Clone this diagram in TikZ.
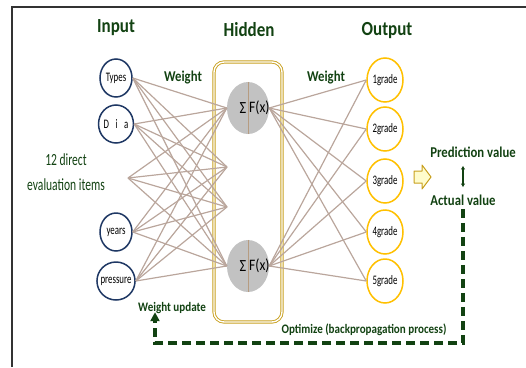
\documentclass[tikz,border=0pt]{standalone}
\usepackage{fontspec}
\setmainfont[FakeStretch=0.85]{Carlito}
\newfontfamily\condfont[FakeStretch=0.68]{Carlito}
\usetikzlibrary{shapes.geometric,arrows.meta}

\definecolor{leaf}{RGB}{18,66,18}
\definecolor{navy}{RGB}{31,56,100}
\definecolor{gold}{RGB}{255,192,0}
\definecolor{boxgold}{RGB}{200,160,30}
\definecolor{linkbrown}{RGB}{186,166,156}

\tikzset{
  innode/.style={ellipse, draw=navy, fill=white, line width=1.5pt, minimum width=32pt, minimum height=38pt, inner sep=0pt, font=\condfont\fontsize{13}{13}\selectfont},
  outnode/.style={ellipse, draw=gold, fill=white, line width=1.5pt, minimum width=36pt, minimum height=44pt, inner sep=0pt, font=\condfont\fontsize{13}{13}\selectfont},
  hidnode/.style={ellipse, fill=black!24, minimum width=42pt, minimum height=52pt, inner sep=0pt},
  title/.style={text=leaf, font=\fontsize{20}{20}\selectfont\bfseries},
  wlabel/.style={text=leaf, font=\fontsize{15}{15}\selectfont\bfseries},
  note/.style={text=leaf, font=\fontsize{13}{13}\selectfont\bfseries},
  link/.style={draw=linkbrown, line width=1.2pt},
}

\begin{document}
\begin{tikzpicture}[x=1pt,y=-1pt]
    \useasboundingbox (0,0) rectangle (526,367);
    % frame
    \draw [black!80, line width=1.5pt] (12,367) -- (12,7) -- (526,7);

    % titles
    \node (tin)  [title] at (116,28) {Input};
    \node (thid) [title] at (249,30) {Hidden};
    \node (tout) [title] at (387,31) {Output};
    \node (w1) [wlabel] at (183,78) {Weight};
    \node (w2) [wlabel] at (326,78) {Weight};

    % hidden layer box
    \node (hidbox) [draw=boxgold, double, double distance=1.4pt, line width=0.9pt, rounded corners=10pt, minimum width=68pt, minimum height=260pt] at (248,192) {};

    % input layer
    \node (types) [innode] at (116,78)  {Types};
    \node (dia)   [innode] at (116,124) {D\,\,\,i\,\,\,a};
    \node (years) [innode] at (116,232) {years};
    \node (press) [innode] at (116,281) {\kern-2pt pressure\kern-2pt};
    \coordinate (items) at (128,178);
    \node (evtext) [text=leaf, align=center, font=\condfont\fontsize{17}{25}\selectfont] at (66,172) {12 direct\\evaluation items};

    % hidden layer
    \node (h1) [hidnode] at (248,108) {};
    \node (h2) [hidnode] at (248,266) {};
    \coordinate (hm1) at (227,167);
    \coordinate (hm2) at (227,207);

    % output layer
    \foreach \i/\y in {1/80,2/129,3/181,4/232,5/281}
        \node (g\i) [outnode] at (385,\y) {\i grade};

    % weights
    \foreach \a in {types.east,dia.east,items,years.east,press.east}
        \foreach \b in {h1.west,hm1,hm2,h2.west}
            \draw [link] (\a) -- (\b);
    \foreach \i in {1,...,5} {
        \draw [link] (h1.east) -- (g\i.west);
        \draw [link] (h2.east) -- (g\i.west);
    }

    % sum and activation
    \foreach \h in {h1,h2} {
        \draw [draw=brown!70!black!60, line width=0.8pt] (\h.north) -- (\h.south);
        \node (s\h) [anchor=east, inner sep=1.5pt, font=\fontsize{17}{17}\selectfont] at (\h.center) {Σ};
        \node (f\h) [anchor=west, inner sep=1pt, font=\fontsize{16}{16}\selectfont] at (\h.center) {F(x)};
    }

    % prediction and feedback
    \coordinate (push) at (422,177);
    \draw [boxgold, fill=yellow!20, line width=1pt, line join=round]
        ([shift={(-8,-6)}]push) -- ([shift={(0,-6)}]push) -- ([shift={(0,-12)}]push)
        -- ([shift={(9,0)}]push) -- ([shift={(0,12)}]push) -- ([shift={(0,6)}]push)
        -- ([shift={(-8,6)}]push) -- cycle;
    \node (pred) [wlabel] at (473,152) {Prediction value};
    \node (act)  [wlabel] at (463,200) {Actual value};
    \draw [leaf, line width=1.2pt, {Latex[length=3.5pt,width=4.5pt]}-{Latex[length=3.5pt,width=4.5pt]}, shorten <=5pt, shorten >=4pt] (act.north |- pred.south) -- (act.north);
    \node (upd) [note] at (172,308) {Weight update};
    \node (opt) [note] at (364,330) {Optimize (backpropagation process)};
    \coordinate (corner) at (155,343);
    \draw [leaf, line width=3.2pt, dash pattern=on 9pt off 5pt, -{Triangle[length=9pt,width=9pt]}, shorten >=-5pt] (act.south) |- (corner) -- (corner |- upd.south);
\end{tikzpicture}
\end{document}
